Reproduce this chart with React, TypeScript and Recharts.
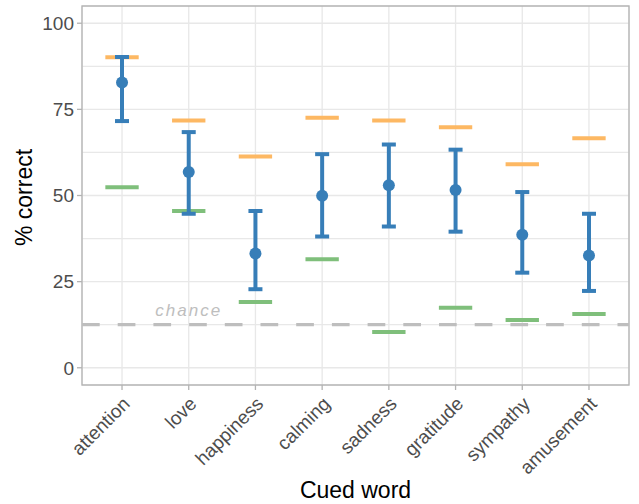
import React from 'react';
import {
  ComposedChart,
  Scatter,
  ErrorBar,
  XAxis,
  YAxis,
  CartesianGrid,
  ReferenceLine,
  ReferenceDot,
  ReferenceArea,
} from 'recharts';

const words = ['attention', 'love', 'happiness', 'calming', 'sadness', 'gratitude', 'sympathy', 'amusement'];
const meanCorrect = [82.8, 56.8, 33.2, 49.9, 53.0, 51.6, 38.6, 32.6];
const lowerCI = [71.6, 44.7, 22.8, 38.1, 41.0, 39.5, 27.6, 22.3];
const upperCI = [90.2, 68.4, 45.5, 62.0, 64.8, 63.3, 51.0, 44.7];
const orangeLevel = [90.1, 71.8, 61.3, 72.6, 71.8, 69.8, 59.1, 66.6];
const greenLevel = [52.4, 45.5, 19.1, 31.5, 10.4, 17.4, 13.9, 15.6];
const chance = 12.5;
const chanceLabelAt = { x: 2, y: 16.8 };
const yTicks = [0, 25, 50, 75, 100];
const yGrid = [0, 12.5, 25, 37.5, 50, 62.5, 75, 87.5, 100];
const xTicks = words.map((_, i) => i + 1);

const BLUE = '#377EB8';
const ORANGE = '#FDB863';
const GREEN = '#7FBF7B';
const GRID = '#E8E8E8';
const BORDER = '#B3B3B3';

const points = words.map((w, i) => ({
  x: i + 1,
  mean: meanCorrect[i],
  err: [meanCorrect[i] - lowerCI[i], upperCI[i] - meanCorrect[i]],
}));

const XTick = (props: any) => {
  const { x, y, payload } = props;
  return (
    <text
      x={0}
      y={0}
      transform={`translate(${x + 9},${y + 13}) rotate(-45)`}
      textAnchor="end"
      fontSize={19}
      fill="#4D4D4D"
    >
      {words[payload.value - 1]}
    </text>
  );
};

const Dot = (props: any) => <circle cx={props.cx} cy={props.cy} r={6} fill={BLUE} />;

export default function App() {
  return (
    <div style={{ position: 'absolute', left: 0, top: 0, fontFamily: "'Liberation Sans', Arial, sans-serif" }}>
      <ComposedChart width={639} height={504} margin={{ top: 6, right: 10, bottom: 0, left: 0 }}>
        <CartesianGrid stroke={GRID} strokeWidth={1.3} horizontalValues={yGrid} />
        <XAxis
          type="number"
          dataKey="x"
          domain={[0.4, 8.6]}
          ticks={xTicks}
          allowDataOverflow
          height={119}
          axisLine={false}
          tickLine={{ stroke: BORDER, strokeWidth: 1.3 }}
          tickSize={5}
          tickMargin={2}
          tick={<XTick />}
          interval={0}
          label={() => (
            <text x={355.5} y={498} textAnchor="middle" fontSize={23} fill="#000">
              Cued word
            </text>
          )}
        />
        <YAxis
          type="number"
          domain={[-5, 105]}
          ticks={yTicks}
          allowDataOverflow
          width={82}
          axisLine={false}
          tickLine={{ stroke: BORDER, strokeWidth: 1.3 }}
          tickSize={5}
          tickMargin={3}
          tick={{ fill: '#4D4D4D', fontSize: 19 }}
          label={() => (
            <text x={0} y={0} transform="translate(32,197.5) rotate(-90)" textAnchor="middle" fontSize={23} fill="#000">
              % correct
            </text>
          )}
        />
        <ReferenceArea x1={0.4} x2={8.6} y1={-5} y2={105} fill="none" stroke={BORDER} strokeWidth={1.3} />
        <ReferenceLine y={chance} stroke="#BEBEBE" strokeWidth={3.3} strokeDasharray="17.7 18" />
        <ReferenceDot
          x={chanceLabelAt.x}
          y={chanceLabelAt.y}
          r={0}
          fill="none"
          stroke="none"
          label={{
            value: 'chance',
            position: 'center',
            fill: '#BEBEBE',
            fontSize: 17,
            fontStyle: 'italic',
            letterSpacing: 2,
          }}
        />
        {orangeLevel.map((v, i) => (
          <ReferenceLine
            key={`o-${i}`}
            segment={[
              { x: i + 1 - 0.25, y: v },
              { x: i + 1 + 0.25, y: v },
            ]}
            stroke={ORANGE}
            strokeWidth={4}
          />
        ))}
        {greenLevel.map((v, i) => (
          <ReferenceLine
            key={`g-${i}`}
            segment={[
              { x: i + 1 - 0.25, y: v },
              { x: i + 1 + 0.25, y: v },
            ]}
            stroke={GREEN}
            strokeWidth={4}
          />
        ))}
        <Scatter data={points} dataKey="mean" shape={<Dot />} isAnimationActive={false}>
          <ErrorBar dataKey="err" direction="y" width={7} strokeWidth={4} stroke={BLUE} isAnimationActive={false} />
        </Scatter>
      </ComposedChart>
    </div>
  );
}
